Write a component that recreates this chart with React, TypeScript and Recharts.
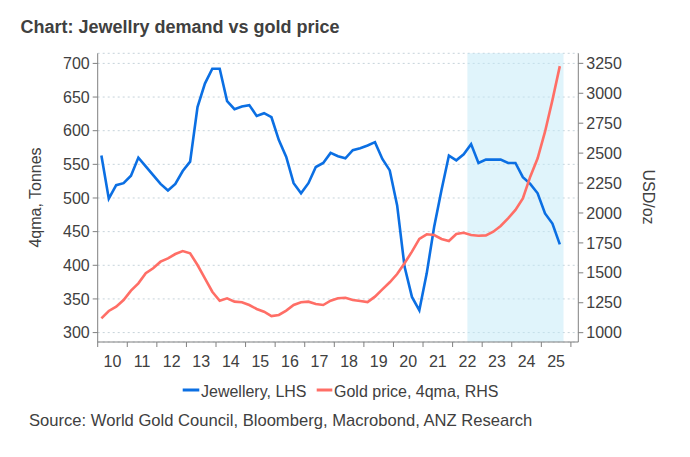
import React from 'react'
import {
  ComposedChart,
  Line,
  XAxis,
  YAxis,
  CartesianGrid,
  ReferenceArea,
} from 'recharts'

// year labels (2010 .. 2025), one per 4 quarters
const years = ['10', '11', '12', '13', '14', '15', '16', '17', '18', '19', '20', '21', '22', '23', '24', '25']

// quarterly, 2010Q1 .. 2025Q3
const jewellery = [
  563, 499, 519, 522, 533, 560, 547, 534, 521, 511, 521, 540, 554,
  635, 670, 692, 692, 644, 632, 636, 638, 622, 626, 620, 586,
  561, 522, 507, 522, 546, 552, 567, 562, 559, 571, 574, 578,
  583, 558, 541, 489, 398, 353, 333, 388, 457, 512, 563, 556,
  565, 580, 552, 557, 557, 557, 552, 552, 531, 521, 507, 477,
  462, 431,
]

const goldPrice = [
  1120, 1181, 1217, 1273, 1351, 1412, 1496, 1538, 1593, 1621,
  1657, 1682, 1663, 1565, 1454, 1342, 1267, 1287, 1259, 1254,
  1231, 1198, 1175, 1139, 1148, 1184, 1231, 1254, 1259, 1240,
  1231, 1267, 1287, 1292, 1273, 1265, 1256, 1301, 1362, 1421,
  1490, 1580, 1677, 1783, 1822, 1816, 1783, 1766, 1824, 1835,
  1816, 1810, 1813, 1843, 1891, 1955, 2025, 2122, 2303, 2457,
  2679, 2943, 3227,
]

const leftTicks = [300, 350, 400, 450, 500, 550, 600, 650, 700]
const rightTicks = [1000, 1250, 1500, 1750, 2000, 2250, 2500, 2750, 3000, 3250]

// shaded period, in quarter index (2022Q3 .. 2025Q3)
const shadeFrom = 50
const shadeTo = 63

const series = [
  { key: 'jewellery', name: 'Jewellery, LHS', color: '#0b6fe3', axis: 'left' },
  { key: 'gold', name: 'Gold price, 4qma, RHS', color: '#ff6e66', axis: 'right' },
]

const data = jewellery.map((v, i) => ({ q: i + 0.5, jewellery: v, gold: goldPrice[i] }))
const yearTicks = [...years.map((_, i) => i * 4), years.length * 4]

const W = 690
const H = 457
const X_MAX = 65
const PLOT_LEFT = 97.7
const PLOT_RIGHT = 578.3
const HALF_YEAR = (2 * (PLOT_RIGHT - PLOT_LEFT)) / X_MAX

const font = '"Liberation Sans", Arial, sans-serif'
const textColor = '#404040'
const axisColor = '#808080'

function YearTick(props: any) {
  const { x, y, payload } = props
  const idx = payload.value / 4
  if (idx >= years.length) return <g />
  return (
    <text x={x + HALF_YEAR} y={y + 18} textAnchor="middle" fill={textColor} fontSize={16} fontFamily={font}>
      {years[idx]}
    </text>
  )
}

export default function App() {
  const tickStyle = { fill: textColor, fontSize: 16, fontFamily: font }
  return (
    <div style={{ position: 'relative', width: W, height: H, background: '#fff' }}>
      <style>{'body{margin:0}'}</style>
      <div style={{ position: 'absolute', left: 0, top: 0 }}>
        <ComposedChart
          width={W}
          height={H}
          data={data}
          margin={{ top: 53.3, right: W - PLOT_RIGHT - 60, bottom: 85, left: PLOT_LEFT - 60 }}
        >
          <ReferenceArea
            yAxisId="left"
            x1={shadeFrom}
            x2={shadeTo}
            fill="#c2eaf8"
            fillOpacity={0.5}
            stroke="none"
          />
          <CartesianGrid
            yAxisId="left"
            vertical={false}
            stroke="#c6d3da"
            strokeDasharray="2 3"
          />
          <XAxis
            dataKey="q"
            type="number"
            domain={[0, X_MAX]}
            ticks={yearTicks}
            interval={0}
            height={30}
            stroke={axisColor}
            tickSize={5}
            tick={<YearTick />}
          />
          <YAxis
            yAxisId="left"
            orientation="left"
            width={60}
            domain={[286, 715]}
            ticks={leftTicks}
            interval={0}
            stroke={axisColor}
            tickSize={5}
            tickMargin={3}
            tick={tickStyle}
          />
          <YAxis
            yAxisId="right"
            orientation="right"
            width={60}
            domain={[922, 3334]}
            ticks={rightTicks}
            interval={0}
            stroke={axisColor}
            tickSize={5}
            tickMargin={3}
            tick={tickStyle}
          />
          {series.map((s) => (
            <Line
              key={s.key}
              yAxisId={s.axis}
              dataKey={s.key}
              name={s.name}
              type="linear"
              stroke={s.color}
              strokeWidth={2.6}
              dot={false}
              activeDot={false}
              isAnimationActive={false}
            />
          ))}
        </ComposedChart>
      </div>
      <svg
        width={W}
        height={H}
        style={{ position: 'absolute', left: 0, top: 0, pointerEvents: 'none' }}
        fontFamily={font}
      >
        <text x={20.5} y={33} fontSize={18} fontWeight="bold" fill={textColor}>
          Chart: Jewellry demand vs gold price
        </text>
        <text x={35} y={197.5} transform="rotate(-90 35 197.5)" textAnchor="middle" dominantBaseline="central" fontSize={16} fill={textColor}>
          4qma, Tonnes
        </text>
        <text x={648} y={197} transform="rotate(90 648 197)" textAnchor="middle" dominantBaseline="central" fontSize={16} fill={textColor}>
          USD/oz
        </text>
        <line x1={182.7} x2={199.3} y1={390} y2={390} stroke={series[0].color} strokeWidth={3} />
        <text x={201} y={396.5} fontSize={16} fill={textColor}>{series[0].name}</text>
        <line x1={316.7} x2={332.3} y1={390} y2={390} stroke={series[1].color} strokeWidth={3} />
        <text x={334} y={396.5} fontSize={16} fill={textColor}>{series[1].name}</text>
        <text x={29} y={425.5} fontSize={16.6} fill={textColor}>
          Source: World Gold Council, Bloomberg, Macrobond, ANZ Research
        </text>
      </svg>
    </div>
  )
}
